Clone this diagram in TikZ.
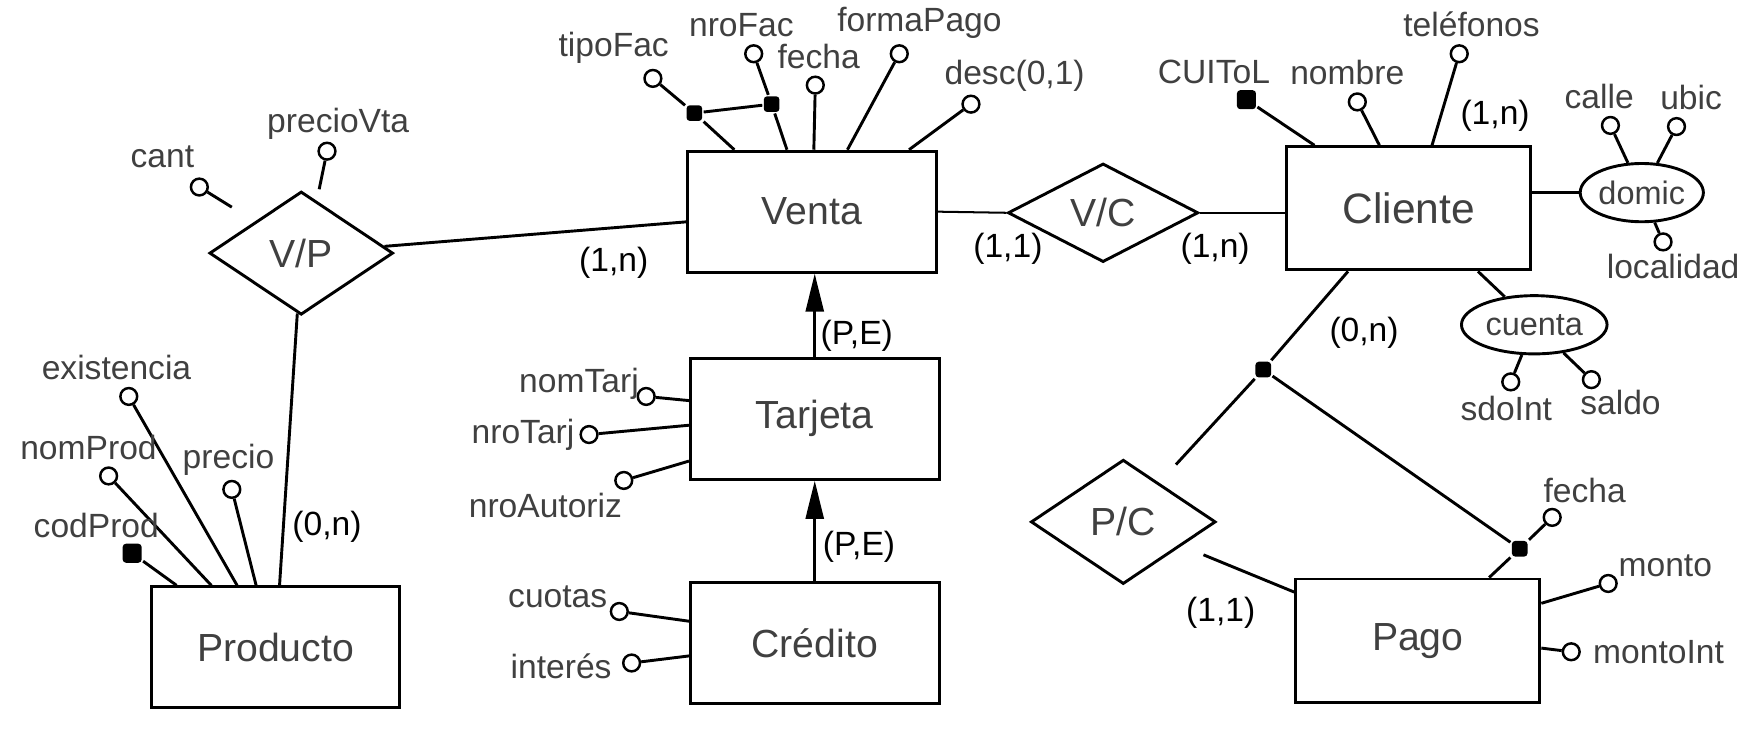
\documentclass[tikz,border=0pt]{standalone}
\usepackage{fontspec}
\setmainfont{Liberation Sans}
\usepackage{tikz}
\usetikzlibrary{arrows.meta,shapes.geometric,calc}
\definecolor{ertext}{HTML}{404040}

\begin{document}
\begin{tikzpicture}[x=0.5pt, y=-0.5pt, line width=1.3pt,
  ent/.style={draw, rectangle, minimum width=111pt, minimum height=54pt, text=ertext, font=\fontsize{17.5}{20}\selectfont},
  rel/.style={draw, diamond, inner sep=0pt, text=ertext, font=\fontsize{17.5}{20}\selectfont},
  comp/.style={draw, ellipse, inner sep=0pt, minimum height=26pt, text=ertext, font=\fontsize{14.5}{17}\selectfont},
  attr/.style={draw, circle, minimum size=7.5pt, inner sep=0pt, line width=1.1pt},
  keyd/.style={fill, rectangle, rounded corners=1.5pt, minimum size=8.5pt, inner sep=0pt},
  jdot/.style={keyd, minimum size=7pt},
  lab/.style={text=ertext, inner sep=0pt, font=\fontsize{15}{18}\selectfont},
  card/.style={inner sep=0pt, font=\fontsize{15}{18}\selectfont},
  isa/.style={-{Triangle[length=17pt,width=8pt]}}]
  \useasboundingbox (0,0) rectangle (1568,659);
  % entities and relationships
  \node[ent] (venta) at (725,189) {Venta};
  \node[ent] (tarjeta) at (727.5,374) {Tarjeta};
  \node[ent] (credito) at (727.5,574) {Crédito};
  \node[ent] (producto) at (246,578) {Producto};
  \node[ent, minimum width=109pt, minimum height=55pt, font=\fontsize{19}{22}\selectfont] (cliente) at (1258,186) {Cliente};
  \node[ent, minimum width=109pt, minimum height=55pt] (pago) at (1266,572) {Pago};
  \node[rel, minimum width=82pt, minimum height=55pt] (vp) at (269,226) {V/P};
  \node[rel, minimum width=85pt, minimum height=44pt] (vc) at (985,190) {V/C};
  \node[rel, minimum width=82.5pt, minimum height=55.5pt] (pc) at (1003,466) {P/C};
  \node[comp, minimum width=55pt] (domic) at (1466,172) {domic};
  \node[comp, minimum width=65pt] (cuenta) at (1370,290) {cuenta};
  \node[jdot] (jn) at (1128,330) {};
  \draw (vp) -- (venta);
  \draw (vp) -- (producto);
  \draw[line width=0.9pt] (venta.east) -- (vc.west);
  \draw[line width=0.9pt] (vc.east) -- (vc.east -| cliente.west);
  \draw[isa] (tarjeta.north) -- (tarjeta.north |- venta.south);
  \draw[isa] (credito.north) -- (credito.north |- tarjeta.south);
  \draw (cliente.east |- domic) -- (domic);
  \draw ($(cliente.south west)+(172,0)$) -- (cuenta);
  \draw ($(cliente.south west)+(56,0)$) -- (jn);
  \draw[shorten >=11pt] (jn) -- (pc);
  \draw[shorten <=10.5pt] (pc) -- ($(pago.north west)+(0,13)$);
  % cardinalities
  \node[card] (c-vpv) at (548,235) {(1,n)};
  \node[card] (c-vpp) at (292,470) {(0,n)};
  \node[card] (c-tv) at (765,300) {(P,E)};
  \node[card] (c-ct) at (767,488) {(P,E)};
  \node[card] (c-vcv) at (900,222) {(1,1)};
  \node[card] (c-vcc) at (1085,222) {(1,n)};
  \node[card] (c-tel) at (1335,103) {(1,n)};
  \node[card] (c-pcc) at (1218,297) {(0,n)};
  \node[card] (c-pcp) at (1090,547) {(1,1)};
  % Venta attributes
  \node[attr] (tipofac) at (583,70) {};
  \node[attr] (nrofac) at (673,48) {};
  \node[jdot] (ktipofac) at (620,101) {};
  \node[jdot] (knrofac) at (689,93) {};
  \node[attr] (vfecha) at (728,76) {};
  \node[attr] (formapago) at (803,48) {};
  \node[attr] (desc) at (867,93) {};
  \draw (tipofac) -- (ktipofac) -- ($(venta.north west)+(43,0)$);
  \draw (nrofac) -- (knrofac) -- ($(venta.north west)+(90,0)$);
  \draw (ktipofac) -- (knrofac);
  \draw (vfecha) -- ($(venta.north west)+(114,0)$);
  \draw (formapago) -- ($(venta.north west)+(144,0)$);
  \draw (desc) -- ($(venta.north west)+(199,0)$);
  \node[lab] (tipofac-l) at (548,43) {tipoFac};
  \node[lab] (nrofac-l) at (662,22) {nroFac};
  \node[lab] (vfecha-l) at (731,50) {fecha};
  \node[lab] (formapago-l) at (821,20) {formaPago};
  \node[lab] (desc-l) at (906,68) {desc(0,1)};
  % V/P attributes
  \node[attr] (cant) at (178,167) {};
  \node[attr] (preciovta) at (292,135) {};
  \draw (cant) -- (207,185);
  \draw (preciovta) -- (285,169);
  \node[lab] (cant-l) at (145,140) {cant};
  \node[lab] (preciovta-l) at (302,111) {precioVta};
  % Producto attributes
  \node[attr] (existencia) at (115,354) {};
  \node[attr] (nomprod) at (97,425) {};
  \node[attr] (precio) at (207,437) {};
  \node[keyd] (codprod) at (118,494) {};
  \draw (codprod) -- ($(producto.north west)+(24,0)$);
  \draw (nomprod) -- ($(producto.north west)+(55,0)$);
  \draw (existencia) -- ($(producto.north west)+(78,0)$);
  \draw (precio) -- ($(producto.north west)+(95,0)$);
  \node[lab] (existencia-l) at (104,328) {existencia};
  \node[lab] (nomprod-l) at (79,400) {nomProd};
  \node[lab] (precio-l) at (204,411) {precio};
  \node[lab] (codprod-l) at (86,469) {codProd};
  % Tarjeta and Credito attributes
  \node[attr] (nomtarj) at (577,354) {};
  \node[attr] (nrotarj) at (526,388) {};
  \node[attr] (nroautoriz) at (557,429) {};
  \node[attr] (cuotas) at (553,546) {};
  \node[attr] (interes) at (564,592) {};
  \draw (nomtarj) -- ($(tarjeta.north west)+(0,39)$);
  \draw (nrotarj) -- ($(tarjeta.north west)+(0,61)$);
  \draw (nroautoriz) -- ($(tarjeta.north west)+(0,93)$);
  \draw (cuotas) -- ($(credito.north west)+(0,36)$);
  \draw (interes) -- ($(credito.north west)+(0,67)$);
  \node[lab] (nomtarj-l) at (517,343) {nomTarj};
  \node[lab] (nrotarj-l) at (467,388) {nroTarj};
  \node[lab] (nroautoriz-l) at (487,451) {nroAutoriz};
  \node[lab] (cuotas-l) at (498,533) {cuotas};
  \node[lab] (interes-l) at (501,595) {interés};
  % Cliente attributes
  \node[keyd] (cuitol) at (1113,89) {};
  \node[attr] (nombre) at (1212,91) {};
  \node[attr] (telefonos) at (1303,48) {};
  \node[attr] (calle) at (1438,112) {};
  \node[attr] (ubic) at (1497,113) {};
  \node[attr] (localidad) at (1485,216) {};
  \node[attr] (sdoint) at (1349,341) {};
  \node[attr] (saldo) at (1421,339) {};
  \draw (cuitol) -- ($(cliente.north west)+(26,0)$);
  \draw (nombre) -- ($(cliente.north west)+(84,0)$);
  \draw (telefonos) -- ($(cliente.north west)+(131,0)$);
  \draw (calle) -- (domic);
  \draw (ubic) -- (domic);
  \draw (localidad) -- (domic);
  \draw (sdoint) -- (cuenta);
  \draw (saldo) -- (cuenta);
  \node[lab] (cuitol-l) at (1084,64) {CUIToL};
  \node[lab] (nombre-l) at (1203,65) {nombre};
  \node[lab] (telefonos-l) at (1314,22) {teléfonos};
  \node[lab] (calle-l) at (1428,86) {calle};
  \node[lab] (ubic-l) at (1510,87) {ubic};
  \node[lab] (localidad-l) at (1494,238) {localidad};
  \node[lab] (sdoint-l) at (1345,365) {sdoInt};
  \node[lab] (saldo-l) at (1447,359) {saldo};
  % Pago attributes
  \node[attr] (pfecha) at (1386,462) {};
  \node[jdot] (kpfecha) at (1357,490) {};
  \node[attr] (monto) at (1436,521) {};
  \node[attr] (montoint) at (1403,582) {};
  \draw (pfecha) -- (kpfecha) -- ($(pago.north west)+(174,0)$);
  \draw (jn) -- (kpfecha);
  \draw (monto) -- ($(pago.north east)+(0,23)$);
  \draw (montoint) -- ($(pago.north east)+(0,63)$);
  \node[lab] (pfecha-l) at (1415,438) {fecha};
  \node[lab] (monto-l) at (1487,505) {monto};
  \node[lab] (montoint-l) at (1481,582) {montoInt};
\end{tikzpicture}
\end{document}
